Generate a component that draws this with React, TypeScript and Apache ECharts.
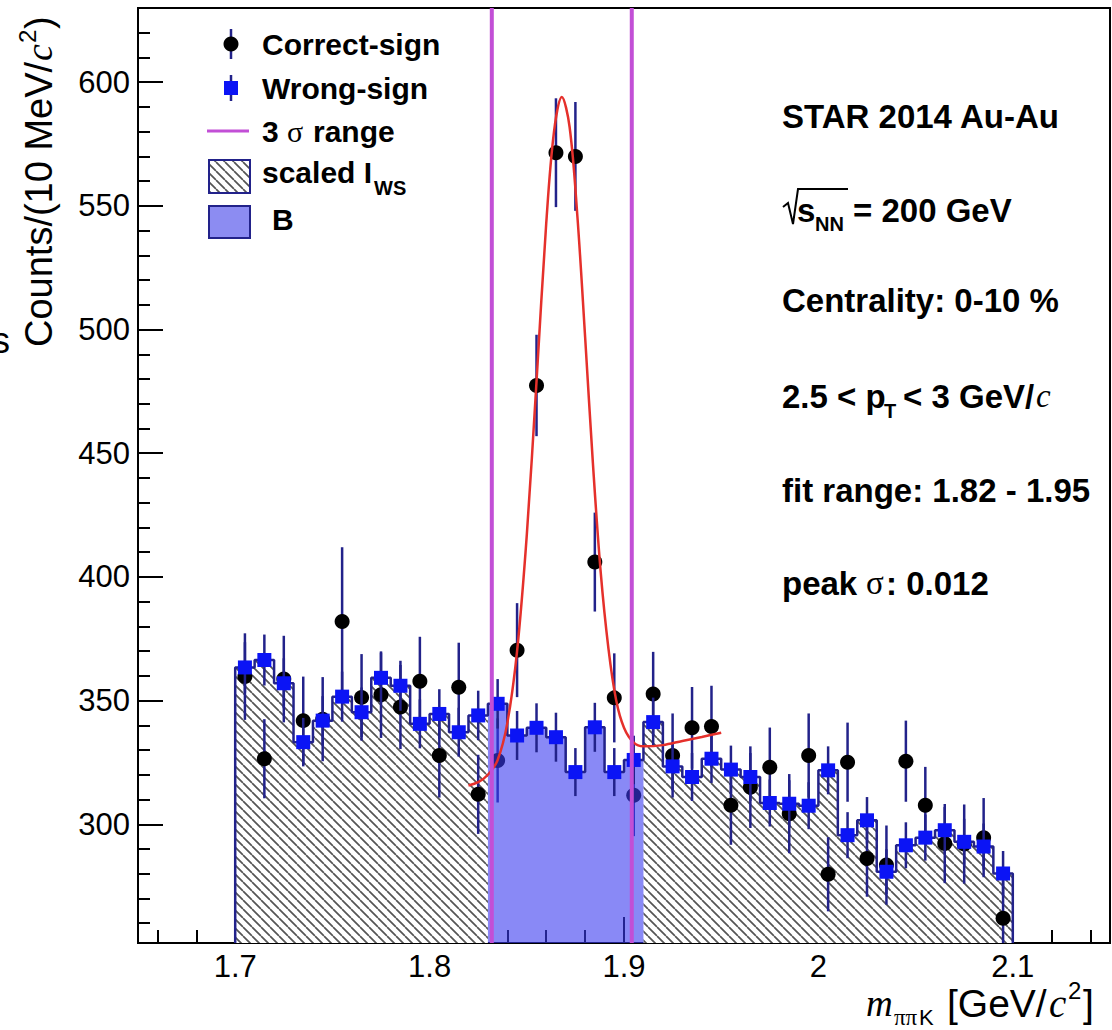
import React, { useEffect, useRef } from "react";
import * as echarts from "echarts";

// ---------- data ----------
const binLowEdges = [
  1.70, 1.71, 1.72, 1.73, 1.74, 1.75, 1.76, 1.77, 1.78, 1.79,
  1.80, 1.81, 1.82, 1.83, 1.84, 1.85, 1.86, 1.87, 1.88, 1.89,
  1.90, 1.91, 1.92, 1.93, 1.94, 1.95, 1.96, 1.97, 1.98, 1.99,
  2.00, 2.01, 2.02, 2.03, 2.04, 2.05, 2.06, 2.07, 2.08, 2.09,
];
const BIN_WIDTH = 0.01;

const wrongSign = [
  363.4, 366.4, 357.0, 333.2, 341.9, 351.6, 345.3, 359.2, 356.0, 340.6,
  344.6, 337.2, 344.0, 348.7, 335.9, 339.0, 335.2, 321.1, 339.2, 321.1,
  326.0, 341.3, 323.4, 319.1, 326.5, 322.1, 319.1, 308.6, 308.3, 307.5,
  321.8, 295.6, 301.6, 280.8, 291.5, 294.6, 297.6, 292.9, 291.0, 280.1,
];
const wrongSignErr = [
  10.2, 10.3, 10.1, 9.8, 9.9, 10.1, 10.0, 10.2, 10.1, 9.9,
  10.0, 9.9, 10.0, 10.0, 9.9, 9.9, 9.9, 9.7, 9.9, 9.7,
  9.8, 9.9, 9.7, 9.7, 9.8, 9.7, 9.7, 9.5, 9.5, 9.5,
  9.7, 9.3, 9.4, 9.1, 9.3, 9.3, 9.4, 9.3, 9.3, 9.1,
];
const correctSign = [
  359.7, 326.5, 358.7, 341.9, 342.5, 382.0, 351.3, 352.4, 347.4, 357.8,
  327.8, 355.4, 312.1, 325.8, 370.4, 477.4, 571.5, 570.0, 406.0, 351.1,
  311.7, 352.7, 327.8, 339.0, 339.5, 307.7, 315.0, 323.1, 304.3, 327.8,
  279.8, 325.1, 286.2, 283.5, 325.5, 307.7, 292.2, 292.0, 294.6, 262.0,
];
const correctSignErr = [
  17.5, 16.0, 17.5, 17.8, 17.0, 30.0, 17.5, 17.5, 17.0, 18.0,
  17.0, 18.0, 16.0, 17.0, 19.0, 20.5, 22.0, 22.0, 20.0, 18.0,
  16.5, 17.0, 17.0, 16.5, 16.5, 16.0, 16.5, 16.0, 16.0, 17.0,
  15.0, 16.0, 15.5, 16.0, 16.4, 15.5, 16.0, 16.0, 16.0, 16.0,
];

// fit curve (gaussian + linear)
const fitX = [
  1.820, 1.825, 1.830, 1.835, 1.840, 1.845, 1.850, 1.855, 1.860, 1.864,
  1.868, 1.872, 1.876, 1.880, 1.884, 1.888, 1.892, 1.896, 1.900, 1.905,
  1.910, 1.920, 1.930, 1.940, 1.950,
];
const fitY = [
  315.7, 317.0, 320.0, 326.0, 341.0, 370.0, 417.0, 479.0, 543.0, 580.0,
  594.0, 582.0, 546.0, 497.0, 446.0, 402.0, 371.0, 350.0, 339.0, 333.0,
  331.5, 332.0, 333.7, 335.3, 337.0,
];

const sigmaLines = [1.832, 1.904];
const bRange = [1.83, 1.91];

const xMajorTicks = [1.7, 1.8, 1.9, 2.0, 2.1];
const xMinorTicks = [
  1.66, 1.68, 1.72, 1.74, 1.76, 1.78, 1.82, 1.84, 1.86, 1.88,
  1.92, 1.94, 1.96, 1.98, 2.02, 2.04, 2.06, 2.08, 2.12, 2.14,
];
const yMajorTicks = [300, 350, 400, 450, 500, 550, 600];
const yMinorTicks = [
  260, 270, 280, 290, 310, 320, 330, 340, 360, 370, 380, 390,
  410, 420, 430, 440, 460, 470, 480, 490, 510, 520, 530, 540,
  560, 570, 580, 590, 610, 620,
];

const X_MIN = 1.65;
const X_MAX = 2.15;
const Y_MIN = 252;
const Y_MAX = 630;

// ---------- styles ----------
const NAVY = "#22228a";
const BLUE = "#0b14f5";
const MAGENTA = "#c24fd6";
const RED = "#e5302b";
const SANS = '"Liberation Sans", Arial, Helvetica, sans-serif';
const SERIF = '"Liberation Serif", "Times New Roman", serif';
const HATCH = 9;

function makeHatch() {
  const c = document.createElement("canvas");
  c.width = HATCH;
  c.height = HATCH;
  const ctx = c.getContext("2d")!;
  ctx.fillStyle = "#ffffff";
  ctx.fillRect(0, 0, HATCH, HATCH);
  ctx.strokeStyle = "#555555";
  ctx.lineWidth = 1.7;
  ctx.beginPath();
  for (const o of [-HATCH, 0, HATCH]) {
    ctx.moveTo(o, 0);
    ctx.lineTo(o + HATCH, HATCH);
  }
  ctx.stroke();
  return c;
}

function stepPoints(from: number, to: number) {
  const pts: number[][] = [[binLowEdges[from], Y_MIN]];
  let r = binLowEdges[from];
  for (let i = from; i < to; i++) {
    const l = binLowEdges[i];
    r = +(l + BIN_WIDTH).toFixed(4);
    pts.push([l, wrongSign[i]], [r, wrongSign[i]]);
  }
  pts.push([r, Y_MIN]);
  return pts;
}

function txt(x: number, y: number, text: string, o: any = {}) {
  return {
    type: "text",
    x,
    y,
    z: 100,
    style: {
      text,
      fill: "#000",
      fontSize: o.size ?? 30,
      fontWeight: o.weight ?? "bold",
      fontStyle: o.italic ? "italic" : "normal",
      fontFamily: o.family ?? SANS,
      textAlign: o.align ?? "left",
      textVerticalAlign: o.valign ?? "middle",
      align: o.align ?? "left",
      verticalAlign: o.valign ?? "middle",
    },
  };
}

export default function App() {
  const ref = useRef<HTMLDivElement>(null);

  useEffect(() => {
    if (!ref.current) return;
    const chart = echarts.init(ref.current, null, { renderer: "svg" });
    const hatchImg = makeHatch();
    const hatchFill: any = { image: hatchImg, repeat: "repeat", imageWidth: HATCH, imageHeight: HATCH };

    const centers = binLowEdges.map((l) => +(l + BIN_WIDTH / 2).toFixed(4));
    const blueData = centers.map((c, i) => [c, wrongSign[i], wrongSignErr[i]]);
    const blackData = centers.map((c, i) => [c, correctSign[i], correctSignErr[i]]);
    const iB0 = binLowEdges.findIndex((l) => l >= bRange[0] - 1e-9);
    const iB1 = binLowEdges.findIndex((l) => l >= bRange[1] - 1e-9);
    const nBins = binLowEdges.length;

    const tickLine = { color: "#000", width: 2 };

    const markerSeries = (data: number[][], kind: "circle" | "square", z: number) => ({
      type: "custom",
      z,
      clip: true,
      silent: true,
      encode: { x: 0, y: 1 },
      data,
      renderItem: (_p: any, api: any) => {
        const x = api.value(0);
        const y = api.value(1);
        const e = api.value(2);
        const p = api.coord([x, y]);
        const t = api.coord([x, y + e]);
        const b = api.coord([x, y - e]);
        const marker =
          kind === "circle"
            ? { type: "circle", shape: { cx: p[0], cy: p[1], r: 7.5 }, style: { fill: "#000" } }
            : { type: "rect", shape: { x: p[0] - 7, y: p[1] - 7, width: 14, height: 14 }, style: { fill: BLUE } };
        return {
          type: "group",
          children: [
            { type: "line", shape: { x1: p[0], y1: t[1], x2: p[0], y2: b[1] }, style: { stroke: NAVY, lineWidth: 2.5 } },
            marker,
          ],
        };
      },
    });

    const option: any = {
      animation: false,
      backgroundColor: "#ffffff",
      grid: {
        left: 138,
        right: 2,
        top: 8,
        bottom: 87,
        show: true,
        borderColor: "#000",
        borderWidth: 2,
        backgroundColor: "transparent",
      },
      xAxis: [
        {
          type: "value",
          min: X_MIN,
          max: X_MAX,
          position: "bottom",
          axisLine: { show: true, lineStyle: { color: "#000", width: 2 } },
          splitLine: { show: false },
          axisTick: { show: true, inside: true, length: 26, lineStyle: tickLine, customValues: xMajorTicks },
          axisLabel: {
            customValues: xMajorTicks,
            formatter: (v: number) => String(Math.round(v * 10) / 10),
            color: "#000",
            fontSize: 31,
            fontFamily: SANS,
            margin: 8,
          },
        },
        {
          type: "value",
          min: X_MIN,
          max: X_MAX,
          position: "bottom",
          axisLine: { show: false },
          splitLine: { show: false },
          axisTick: { show: true, inside: true, length: 13, lineStyle: tickLine, customValues: xMinorTicks },
          axisLabel: { show: false, customValues: xMinorTicks },
        },
      ],
      yAxis: [
        {
          type: "value",
          min: Y_MIN,
          max: Y_MAX,
          position: "left",
          axisLine: { show: true, lineStyle: { color: "#000", width: 2 } },
          splitLine: { show: false },
          axisTick: { show: true, inside: true, length: 25, lineStyle: tickLine, customValues: yMajorTicks },
          axisLabel: {
            customValues: yMajorTicks,
            color: "#000",
            fontSize: 31,
            fontFamily: SANS,
            margin: 8,
          },
        },
        {
          type: "value",
          min: Y_MIN,
          max: Y_MAX,
          position: "left",
          axisLine: { show: false },
          splitLine: { show: false },
          axisTick: { show: true, inside: true, length: 12, lineStyle: tickLine, customValues: yMinorTicks },
          axisLabel: { show: false, customValues: yMinorTicks },
        },
      ],
      series: [
        {
          type: "line",
          z: 1,
          silent: true,
          symbol: "none",
          data: stepPoints(0, iB0),
          lineStyle: { width: 0 },
          areaStyle: { color: hatchFill, opacity: 1, origin: "start" },
        },
        {
          type: "line",
          z: 1,
          silent: true,
          symbol: "none",
          data: stepPoints(iB1, nBins),
          lineStyle: { width: 0 },
          areaStyle: { color: hatchFill, opacity: 1, origin: "start" },
        },
        markerSeries(blackData, "circle", 2),
        {
          type: "line",
          z: 3,
          silent: true,
          symbol: "none",
          data: stepPoints(iB0, iB1),
          lineStyle: { width: 0 },
          areaStyle: { color: "#3b3bf0", opacity: 0.6, origin: "start" },
        },
        {
          type: "line",
          z: 4,
          silent: true,
          symbol: "none",
          data: stepPoints(0, nBins),
          lineStyle: { color: NAVY, width: 2.5 },
        },
        markerSeries(blueData, "square", 5),
        {
          type: "line",
          z: 6,
          silent: true,
          symbol: "none",
          smooth: 0.35,
          data: fitX.map((x, i) => [x, fitY[i]]),
          lineStyle: { color: RED, width: 2.5 },
        },
        {
          type: "custom",
          z: 7,
          silent: true,
          encode: { x: 0, y: 1 },
          data: sigmaLines.map((v) => [v, Y_MIN]),
          renderItem: (_p: any, api: any) => {
            const x = api.value(0);
            const a = api.coord([x, Y_MIN]);
            const b = api.coord([x, Y_MAX]);
            return {
              type: "line",
              shape: { x1: a[0], y1: a[1], x2: b[0], y2: b[1] },
              style: { stroke: MAGENTA, lineWidth: 4 },
            };
          },
        },
      ],
      graphic: [
        // legend
        { type: "line", z: 100, shape: { x1: 231, y1: 29, x2: 231, y2: 59 }, style: { stroke: NAVY, lineWidth: 2.5 } },
        { type: "circle", z: 100, shape: { cx: 231, cy: 44, r: 7.5 }, style: { fill: "#000" } },
        txt(262, 44, "Correct-sign"),
        { type: "line", z: 100, shape: { x1: 231, y1: 75, x2: 231, y2: 101 }, style: { stroke: NAVY, lineWidth: 2.5 } },
        { type: "rect", z: 100, shape: { x: 224, y: 81, width: 14, height: 14 }, style: { fill: BLUE } },
        txt(262, 88, "Wrong-sign"),
        { type: "line", z: 100, shape: { x1: 207, y1: 131, x2: 249, y2: 131 }, style: { stroke: MAGENTA, lineWidth: 3 } },
        txt(262, 131, "3"),
        txt(287, 131, "σ", { family: SERIF, weight: "normal" }),
        txt(313, 131, "range"),
        { type: "rect", z: 100, shape: { x: 209, y: 160, width: 41, height: 33 }, style: { fill: hatchFill, stroke: NAVY, lineWidth: 2 } },
        txt(262, 172, "scaled I"),
        txt(374, 188, "WS", { size: 20 }),
        { type: "rect", z: 100, shape: { x: 209, y: 206, width: 41, height: 32 }, style: { fill: "#8c8cf2", stroke: NAVY, lineWidth: 2 } },
        txt(272, 219, "B"),

        // info block
        txt(782, 116, "STAR 2014 Au-Au", { size: 33 }),
        {
          type: "polyline",
          z: 100,
          shape: { points: [[783, 207], [788, 203], [793, 224], [798, 189], [848, 189]] },
          style: { stroke: "#000", lineWidth: 2, fill: null },
        },
        txt(797, 210, "s", { size: 33 }),
        txt(815, 224, "NN", { size: 20 }),
        txt(853, 210, "= 200 GeV", { size: 33 }),
        txt(782, 300, "Centrality: 0-10 %", { size: 33 }),
        txt(782, 396, "2.5 < p", { size: 33 }),
        txt(884, 411, "T", { size: 20 }),
        txt(903, 396, "< 3 GeV/", { size: 33 }),
        txt(1036, 396, "c", { size: 33, family: SERIF, weight: "normal", italic: true }),
        txt(782, 490, "fit range: 1.82 - 1.95", { size: 33 }),
        txt(782, 583, "peak", { size: 33 }),
        txt(866, 583, "σ", { size: 33, family: SERIF, weight: "normal" }),
        txt(886, 583, ": 0.012", { size: 33 }),

        // y axis title (rotated)
        {
          type: "group",
          x: 39,
          y: 347,
          rotation: Math.PI / 2,
          z: 100,
          children: [
            txt(0, 0, "Counts/(10 MeV/", { size: 38, weight: "normal" }),
            txt(286, 0, "c", { size: 38, weight: "normal", family: SERIF, italic: true }),
            txt(304, -12, "2", { size: 24, weight: "normal" }),
            txt(318, 0, ")", { size: 38, weight: "normal" }),
          ],
        },
        // x axis title
        txt(866, 1003, "m", { size: 37, weight: "normal", family: SERIF, italic: true }),
        txt(894, 1017, "ππ", { size: 23, weight: "normal", family: SERIF }),
        txt(919, 1017, "K", { size: 22, weight: "normal" }),
        txt(947, 1003, "[GeV/", { size: 39, weight: "normal" }),
        txt(1049, 1003, "c", { size: 39, weight: "normal", family: SERIF, italic: true }),
        txt(1068, 990, "2", { size: 24, weight: "normal" }),
        txt(1083, 1003, "]", { size: 39, weight: "normal" }),

        // stray glyph at the left edge (cut off in the reference too)
        txt(-8, 340, "s", { size: 36, weight: "normal" }),
      ],
    };

    chart.setOption(option);
    return () => chart.dispose();
  }, []);

  return (
    <div
      ref={ref}
      style={{ position: "fixed", left: 0, top: 0, width: 1112, height: 1030, background: "#ffffff" }}
    />
  );
}
